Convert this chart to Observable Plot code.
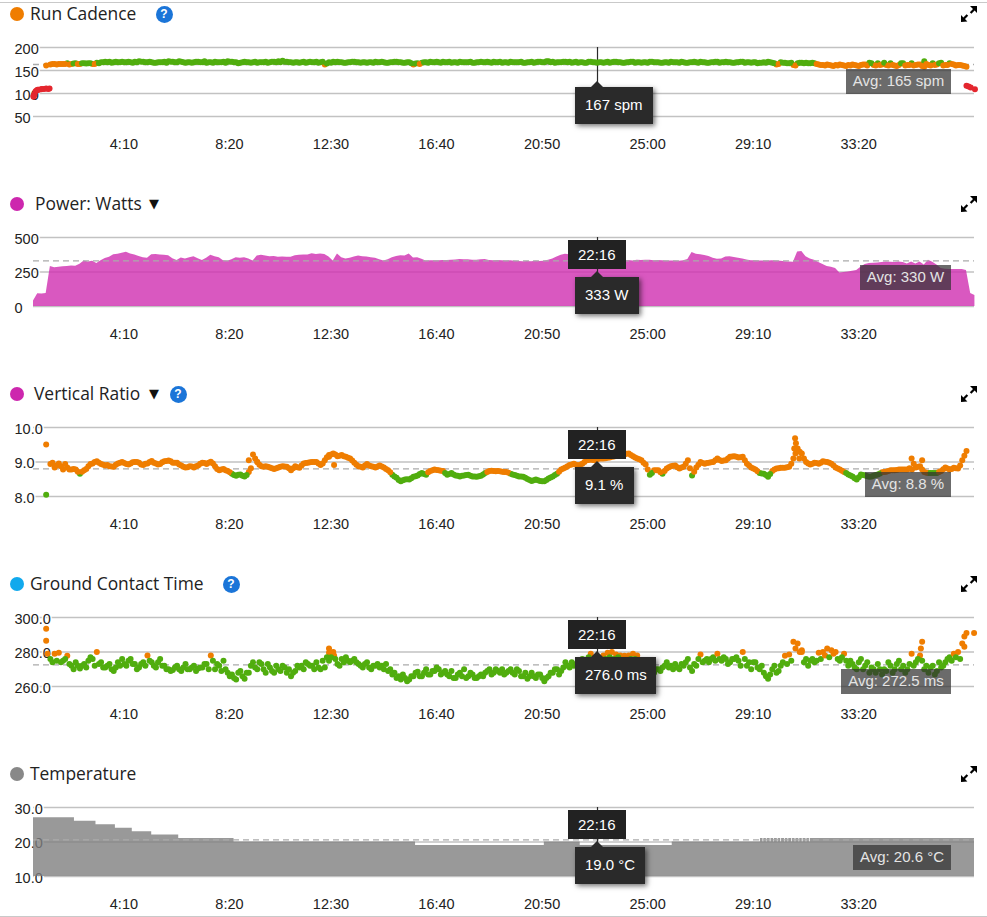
<!DOCTYPE html>
<html><head><meta charset="utf-8">
<script src="https://cdn.jsdelivr.net/npm/d3@7"></script>
<script src="https://cdn.jsdelivr.net/npm/@observablehq/plot@0.6"></script>
<style>
html,body{margin:0;padding:0;background:#fff;width:987px;height:917px;overflow:hidden}
#root{position:relative;width:987px;height:917px;overflow:hidden}
.panel{position:absolute;left:0;width:987px}
.panel svg.plot{position:absolute;left:0;top:0}
.hline{position:absolute;left:0;width:987px;height:1px;background:#c9c9c9}
.dot{position:absolute;left:10px;width:14px;height:14px;border-radius:50%;top:7px}
.title{position:absolute;top:0;font:17.4px/26px "Open Sans",sans-serif;color:#222;white-space:nowrap}
.tri{position:absolute;top:1px;font:13px/26px "DejaVu Sans",sans-serif;color:#111}
.help{position:absolute;top:6px;width:17px;height:17px;border-radius:50%;background:#1b75d8;color:#fff;font:bold 12px/17px "Liberation Sans",sans-serif;text-align:center}
.expand{position:absolute;left:961px;top:6px}
.avg{position:absolute;box-sizing:border-box;height:24.5px;background:rgba(50,50,50,.72);color:#e4e4e4;font:15px/24.5px "Liberation Sans",sans-serif;text-align:center}
.val{position:absolute;left:575px;box-sizing:border-box;height:37px;background:#2a2a2a;color:#fff;font:15px/36px "Liberation Sans",sans-serif;padding-left:10px;box-shadow:2px 2px 5px rgba(0,0,0,.55)}
.val:before{content:"";position:absolute;left:16px;top:-6px;border-left:6px solid transparent;border-right:6px solid transparent;border-bottom:6px solid #2a2a2a}
.time{position:absolute;left:568px;width:57.5px;height:29.5px;background:#222;color:#fff;font:15px/29px "Liberation Sans",sans-serif;text-align:center}
</style></head><body><div id="root"></div>
<script>
const sampleStep = 10;
const duration = 2229;
const cursorTime = 1336;
const timeTicks = [250,500,750,1000,1250,1500,1750,2000];
const fmtClock = s => Math.floor(s/60) + ":" + String(s%60).padStart(2,"0");

// Run cadence (spm), one value every 10 s
const cadence = [
93,108,110,111,163,164,164,164,166,164,
166,164,166,166,164,167,168,169,169,168,
168,169,168,168,169,170,169,168,168,167,
168,169,170,169,168,169,167,168,168,169,
168,167,168,169,168,169,170,169,168,167,
169,168,168,167,168,169,168,169,170,171,
169,168,168,167,169,168,168,169,168,163,
168,169,169,168,167,168,169,168,168,167,
168,169,168,168,167,168,169,168,167,168,
163,166,167,168,169,168,168,169,168,167,
168,169,168,168,167,168,169,168,168,169,
168,167,168,169,168,168,167,168,169,168,
169,168,170,169,168,168,169,169,168,167,
168,167,169,168,168,167,169,168,169,168,
167,168,169,168,167,168,169,168,168,167,
168,169,168,167,168,167,168,168,169,168,
167,168,169,168,169,168,167,168,169,168,
167,168,167,168,169,167,163,168,167,166,
162,166,167,167,166,166,163,162,163,161,
162,163,161,162,163,161,162,163,167,162,
166,163,162,166,161,162,166,162,166,162,
163,170,162,166,163,167,162,166,163,162,
161,158,113,109];
// second reading, 5 s later, from 45 s
const seriesStartB = 45;
const cadenceB = [
164,163,164,164,163,165,
164,166,165,166,164,166,168,168,167,169,
168,168,169,167,168,169,168,169,167,168,
168,167,169,168,170,168,168,167,169,168,
170,168,167,168,168,167,169,168,166,168,
168,167,169,168,168,167,169,168,168,169,
168,167,168,168,167,169,168,167,169,165,
167,168,168,167,168,169,168,167,168,168,
167,168,169,167,168,169,168,167,168,166,
165,164,168,167,168,169,167,168,169,168,
167,168,168,169,167,168,168,169,167,168,
169,168,167,168,168,169,167,168,167,169,
168,170,168,167,168,169,168,167,169,168,
167,169,168,167,168,168,167,169,168,167,
168,169,167,168,168,167,169,168,167,168,
167,168,168,169,167,168,169,167,168,167,
168,169,167,168,168,167,168,169,167,168,
168,166,167,167,168,166,164,167,166,167,
161,167,166,166,167,164,162,161,162,160,
161,162,160,161,162,160,163,161,166,161,
162,167,161,162,160,166,161,162,161,163,
160,164,161,162,166,161,162,164,161,162,
160];
const cadenceExtraT = [0,2,5,8,12,18,25,35,38,30,2110,2210,2215];
const cadenceExtraV = [95,98,105,107,108,109,110,110,111,161,158,117,115];

// Power (W), one value every 10 s
const power = [
40,93,90,95,290,280,285,288,290,293,
292,307,330,322,327,312,332,347,356,375,
378,385,393,381,373,363,354,349,375,376,
373,371,368,346,334,351,344,354,361,346,
334,349,371,361,354,332,327,339,354,349,
354,344,329,366,371,366,361,363,356,359,
356,356,368,371,373,373,383,376,381,376,
359,329,381,354,344,349,359,366,361,359,
354,349,339,329,339,354,363,368,366,381,
351,354,342,329,331,332,332,334,333,336,
337,340,339,338,336,335,338,340,333,332,
333,331,330,331,328,326,325,326,325,327,
326,328,335,345,358,372,378,375,370,365,
355,345,338,333,330,334,338,336,332,328,
332,333,330,336,333,336,335,332,333,331,
330,329,330,328,332,340,392,378,375,370,
362,350,342,345,358,360,355,350,345,337,
332,332,330,330,329,331,330,328,325,322,
320,395,398,360,345,335,318,305,290,285,
275,243,246,250,255,260,285,305,312,314,
316,318,322,320,318,322,318,308,322,308,
322,300,335,320,300,275,270,268,268,268,
268,260,95,80];

// Vertical ratio (%), one value every 10 s from 40 s
const seriesStart = 40;
const verticalRatio = [
8.94,8.84,8.96,8.78,8.84,8.78,
8.78,8.66,8.76,8.88,8.96,9.02,8.94,8.90,8.88,8.86,
8.96,9.0,8.94,8.96,9.0,8.98,8.91,8.96,9.03,8.96,
8.94,9.02,9.04,8.98,8.98,8.90,8.84,8.88,8.84,8.90,
8.98,8.94,9.01,8.88,8.76,8.80,8.74,8.66,8.60,8.64,
8.58,8.71,9.22,9.0,8.88,8.88,8.84,8.80,8.84,8.88,
8.86,8.76,8.88,8.83,8.96,8.98,9.0,9.0,8.91,9.05,
9.2,9.25,9.17,9.2,9.15,9.1,8.98,8.88,8.84,8.94,
8.88,8.84,8.90,8.84,8.76,8.63,8.54,8.44,8.49,8.49,
8.57,8.61,8.68,8.63,8.74,8.78,8.76,8.74,8.63,8.68,
8.61,8.58,8.61,8.63,8.58,8.57,8.60,8.68,8.74,8.74,
8.74,8.72,8.71,8.66,8.62,8.58,8.57,8.51,8.45,8.49,
8.45,8.44,8.52,8.58,8.66,8.78,8.84,8.91,8.95,8.89,
8.95,9.05,9.07,9.05,9.1,9.1,9.12,9.15,9.18,9.2,
9.22,9.25,9.17,9.1,9.05,8.93,8.63,8.76,8.76,8.66,
8.81,8.88,8.90,8.81,8.86,9.05,8.61,8.84,9.0,8.95,
8.98,9.0,9.1,9.03,9.05,9.15,9.17,9.13,9.15,8.95,
8.84,8.78,8.68,8.66,8.57,8.74,8.81,8.83,8.83,8.86,
9.1,9.39,9.25,9.0,8.93,8.98,8.95,9.02,9.0,8.95,
8.84,8.78,8.71,8.64,8.58,8.49,8.64,8.61,8.57,8.60,
8.64,8.70,8.72,8.76,8.76,8.78,8.78,8.78,9.1,8.84,
8.88,8.71,8.68,8.68,8.68,8.74,8.84,8.78,8.83,8.81,
9.05,9.32];
const verticalRatioB = [
8.98,8.90,8.88,8.94,8.78,8.80,
8.72,8.72,8.80,8.94,9.0,8.98,8.92,8.91,8.87,8.92,
8.98,8.97,8.93,8.99,9.0,8.93,8.95,9.0,8.98,8.93,
8.99,9.03,9.02,8.98,8.93,8.86,8.85,8.87,8.88,8.95,
8.97,8.98,8.96,8.80,8.78,8.76,8.70,8.62,8.63,8.60,
8.62,8.82,9.1,8.92,8.86,8.86,8.82,8.82,8.86,8.87,
8.82,8.82,8.85,8.90,8.97,8.99,9.0,8.96,8.96,9.14,
9.22,9.22,9.18,9.17,9.12,9.04,8.92,8.86,8.90,8.90,
8.86,8.87,8.87,8.80,8.70,8.58,8.48,8.47,8.50,8.53,
8.59,8.65,8.65,8.70,8.76,8.77,8.75,8.68,8.65,8.64,
8.60,8.60,8.62,8.60,8.58,8.59,8.64,8.71,8.75,8.73,
8.73,8.71,8.69,8.64,8.60,8.58,8.54,8.48,8.47,8.47,
8.44,8.48,8.55,8.62,8.72,8.81,8.88,8.93,8.92,8.92,
9.0,9.06,9.06,9.08,9.1,9.11,9.13,9.16,9.19,9.21,
9.24,9.2,9.13,9.08,8.98,8.78,8.68,8.76,8.70,8.74,
8.85,8.89,8.85,8.84,8.95,8.82,8.72,8.92,8.97,8.97,
8.99,9.05,9.06,9.04,9.1,9.16,9.15,9.14,9.05,8.9,
8.81,8.73,8.67,8.62,8.65,8.78,8.82,8.83,8.85,8.95,
9.25,9.3,9.1,8.96,8.95,8.97,8.98,9.01,8.98,8.9,
8.81,8.75,8.68,8.61,8.53,8.56,8.62,8.59,8.58,8.62,
8.67,8.71,8.74,8.76,8.77,8.78,8.78,8.82,8.95,8.86,
8.78,8.69,8.68,8.68,8.71,8.79,8.81,8.80,8.82,8.9,
9.18];
const ratioExtraT = [30,30,510,530,700,712,1802,1804,1806,1814,2081,2105];
const ratioExtraV = [9.51,8.05,9.05,9.0,9.15,8.91,9.39,9.69,9.54,9.1,8.78,9.05];

// Ground contact time (ms), one value every 10 s from 40 s
const contactTime = [
276,279,279.5,275,277.8,272,
274,270.5,273,275,276,280,274,271,273,269,
274,276,272,276,273,271,274,278,274,271,
276,272,270,269.5,272,269,273,270,272,270.5,
271,273,278,270,272,275,268,267,264,269,
264.5,268,274,270,273,268,271,268,270,272,
268,266,269,271,270,273,272,274,270,271,
275,280,273,276,277,274,276,273,271,274,
270,272,271,270,269,267,265,264,265,264,
266,268.5,266,270,267,269,270,268,267,269,
265,268,270,266,267,265,267,268,270,268,
269,270,268,270,267,269,266,264.5,268,265,
267,263,266,268,270,269,274,271,272,275,
276,275,279,276,276,278,279.5,280,278.5,278,
277.8,278,279,278,275,272,272,268,270,271,
274,272,273,270,272,276,269,272,278.5,275,
274,277,279,275,276,274,276,275,280,272,
270,274,270,268,264.5,270,268,272,277.8,278.5,
286,285,280,276,275,274,279.5,280,282,281,
280,275,279,272,273,270,276,272,268,270,
273,267,269,272,270,275,272,270,279,274,
278,270,268,272,269,271,274,277,279,280,
285,291];
const contactTimeB = [
274,275,274,276,273,270,
272,272,271,277,272,273,271,272,270,271,
272,273,275,273,270,273,272,275,272,274,
272,270,269,271,270,271,270,271,269,271,
273,270,275,273,269,270,266,265,268,266,
268,272,271,274,270,273,269,272,269,271,
270,268,272,272,274,272,270,271,275,277,
277,276,272,274,275,275,274,272,273,271,
272,273,272,273,270,268,266,267,263,266,
268,266,268,267,269,271,267,269,266,265,
267,266,265,268,265,266,266,269,267,270,
268,267,269,268,270,266,268,266,266,267,
265,265,268,270,267,271,272,274,273,274,
274,277,275,277,275,276,277,276,277,275,
275,276,276,274,273,270,268,270,269,272,
271,270,271,273,274,271,273,276,274,276,
276,275,276,277,273,276,277,272,276,274,
274,271,272,266,267,272,269,274,273,275,
282,280,274,272,276,275,276,278,277,279,
276,277,275,275,271,274,270,274,271,268,
270,270,274,268,273,270,268,273,272,276,
275,272,271,267,274,272,276,275,277,276,
283];
const contactExtraT = [30,30,33,700,700,712,1820,2102,2105,2205,2228];
const contactExtraV = [293.5,286.5,279,282,279.5,278,281,282,286,289,291];

// Temperature (°C): step changes
const tempT = [0,97,148,194,234,280,344,475,905,1210,1295,1513,1722,1728,1730,1736,1738,1745,1747,1753,1755,1762,1764,1770,1772,1779,1781,1787,1789,1796,1798,1804,1806,1813,1815,1821,1823,1830,1832,1838,1840,1848,2229];
const tempV = [27,26,25,24,23,22,21,20,19,20,19,20,21,20,21,20,21,20,21,20,21,20,21,20,21,20,21,20,21,20,21,20,21,20,21,20,21,20,21,20,21,21,21];

const orange="#ef7d00", green="#50ad0e", red="#e4262e";

function table(values, start, step){ return values.map((v,i)=>({t:start+i*step,v})); }
function pairs(ts,vs){ return ts.map((t,i)=>({t,v:vs[i]})); }

const panels = [
 {title:"Run Cadence",dot:"#ef7d00",titleX:30,help:164,
  domain:[50,200],ticks:[50,100,150,200],fmt:d=>String(d),avg:163,
  kind:"dot",data:[...pairs(cadenceExtraT,cadenceExtraV),...table(cadence,0,sampleStep),...table(cadenceB,seriesStartB,sampleStep)],
  color:{type:"threshold",domain:[150,165],range:[red,orange,green]},
  avgText:"Avg: 165 spm",avgBox:[846,69],val:"167 spm",valW:78,valTop:87,noTime:true},
 {title:"Power: Watts",dot:"#cd27ae",titleX:35,tri:149,
  domain:[0,500],ticks:[0,250,500],fmt:d=>String(d),avg:330,
  kind:"area",fill:"#cf2eb0",data:table(power,0,sampleStep),
  avgText:"Avg: 330 W",avgBox:[860,75],val:"333 W",valW:64,valTop:87},
 {title:"Vertical Ratio",dot:"#cd27ae",titleX:34,tri:149,help:178,
  domain:[8,10],ticks:[8,9,10],fmt:d=>d.toFixed(1),avg:8.8,
  kind:"dot",data:[...pairs(ratioExtraT,ratioExtraV),...table(verticalRatio,seriesStart,sampleStep),...table(verticalRatioB,seriesStartB,sampleStep)],
  color:{type:"threshold",domain:[8.69],range:[green,orange]},
  avgText:"Avg: 8.8 %",avgBox:[865,92],val:"9.1 %",valW:59,valTop:87},
 {title:"Ground Contact Time",dot:"#11a9ed",titleX:30,help:231,
  domain:[260,300],ticks:[260,280,300],fmt:d=>d.toFixed(1),avg:272.5,
  kind:"dot",data:[...pairs(contactExtraT,contactExtraV),...table(contactTime,seriesStart,sampleStep),...table(contactTimeB,seriesStartB,sampleStep)],
  color:{type:"threshold",domain:[277.5],range:[green,orange]},
  avgText:"Avg: 272.5 ms",avgBox:[841,99],val:"276.0 ms",valW:81,valTop:87},
 {title:"Temperature",dot:"#888888",titleX:30,
  domain:[10,30],ticks:[10,20,30],fmt:d=>d.toFixed(1),avg:20.6,
  kind:"step",fill:"#808080",data:pairs(tempT,tempV),
  avgText:"Avg: 20.6 °C",avgBox:[853,85],val:"19.0 °C",valW:70,valTop:87,height:157}
];

const root = document.getElementById("root");
const top0 = 0, pitch = 190;
panels.forEach((p,idx)=>{
  const h = p.height || pitch;
  const div = document.createElement("div");
  div.className="panel"; div.style.top=(top0+idx*pitch)+"px"; div.style.height=h+"px";
  const base = p.domain[0];
  const marks = [
    Plot.ruleY(p.ticks,{stroke:"#c2c2c2",strokeWidth:1.4}),
    Plot.axisY(p.ticks,{anchor:"left",tickSize:0,tickPadding:0,textAnchor:"start",dx:-19,dy:1.5,tickFormat:p.fmt,textStroke:"white",textStrokeWidth:3,label:null,fill:"#222"}),
    Plot.axisX(timeTicks,{anchor:"bottom",tickSize:0,tickPadding:22,textAnchor:"end",dx:-1,tickFormat:fmtClock,label:null,fill:"#222"})
  ];
  if(p.kind==="area"||p.kind==="step"){
    marks.push(Plot.areaY(p.data,{x:"t",y1:base,y2:"v",fill:p.fill,fillOpacity:.8,curve:p.kind==="step"?"step-after":"linear"}));
  }
  marks.push(Plot.ruleY([p.avg],{stroke:"#aaaaaa",strokeWidth:1.3,strokeDasharray:"6,4"}));
  marks.push(Plot.ruleX([cursorTime],{y1:p.domain[0],y2:p.domain[1],stroke:"#2a2a2a",strokeWidth:1.2}));
  if(p.kind==="dot"){
    marks.push(Plot.dot(p.data,{x:"t",y:"v",r:3,fill:"v",stroke:"none"}));
  }
  const svg = Plot.plot({
    width:987,height:h,
    marginTop:47,marginBottom:h-116,marginLeft:33,marginRight:13,
    style:{background:"transparent",fontFamily:'"Liberation Sans",Arial,sans-serif',fontSize:"14.5px",overflow:"visible"},
    x:{domain:[0,duration],label:null},
    y:{domain:p.domain,label:null},
    color:p.color,
    marks
  });
  svg.classList.add("plot");
  div.appendChild(svg);

  let html = `<div class="dot" style="background:${p.dot}"></div><div class="title" style="left:${p.titleX}px">${p.title}</div>`;
  if(p.tri) html += `<div class="tri" style="left:${p.tri}px">▼</div>`;
  if(p.help) html += `<div class="help" style="left:${p.help-8.5}px">?</div>`;
  html += `<svg class="expand" width="16" height="16" viewBox="0 0 16 16"><path d="M9 0h7v7l-2.400-2.400-3.200 3.200-1.600-1.600 3.200-3.200zM0 16V9l2.400 2.400 3.200-3.200 1.600 1.600-3.200 3.200 2.400 2.400z" fill="#000"/></svg>`;
  html += `<div class="avg" style="left:${p.avgBox[0]}px;width:${951-p.avgBox[0]}px;top:${p.avgBox[1]}px">${p.avgText}</div>`;
  if(!p.noTime) html += `<div class="time" style="top:49.500px">${fmtClock(cursorTime)}</div>`;
  html += `<div class="val" style="top:${p.valTop}px;width:${p.valW}px">${p.val}</div>`;
  const overlay = document.createElement("div");
  overlay.innerHTML = html;
  div.appendChild(overlay);
  root.appendChild(div);
});
[2,916].forEach(y=>{const l=document.createElement("div");l.className="hline";l.style.top=y+"px";root.appendChild(l);});
</script></body></html>
